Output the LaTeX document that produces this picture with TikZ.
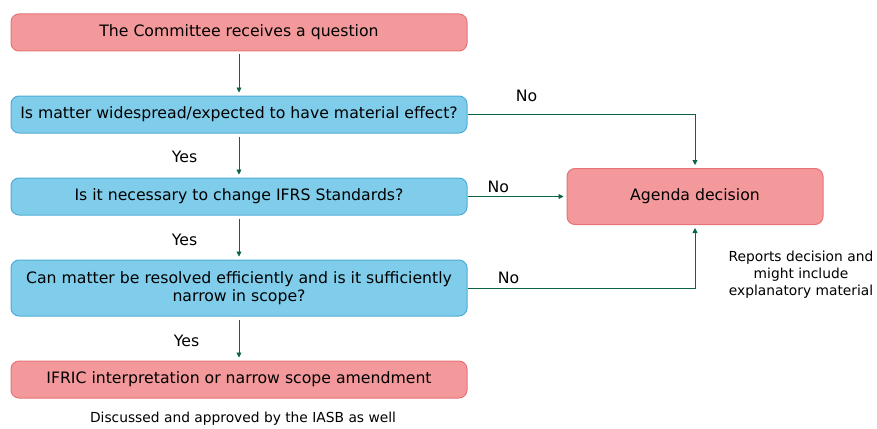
\documentclass[tikz,border=0pt]{standalone}
\usepackage{fontspec}
\setmainfont{DejaVu Sans}
\usepackage{tikz}
\usepackage{xcolor}
\usetikzlibrary{positioning, arrows.meta}

\definecolor{boxpink}{RGB}{244,153,155}
\definecolor{edgepink}{RGB}{230,115,118}
\definecolor{boxblue}{RGB}{127,205,234}
\definecolor{edgeblue}{RGB}{80,172,212}
\definecolor{flowgreen}{RGB}{10,100,65}

\begin{document}
\begin{tikzpicture}[
    x=1pt, y=-1pt,
    node distance=44pt and 99pt, % vertical and horizontal spacing
    every node/.style={font=\fontsize{15.7}{18}\selectfont},
    outcome/.style={draw=edgepink, fill=boxpink, line width=1pt, rounded corners=8pt,
        minimum width=456pt, minimum height=37pt},
    question/.style={draw=edgeblue, fill=boxblue, line width=1pt, rounded corners=8pt,
        minimum width=456pt, minimum height=37pt, align=center},
    flow/.style={draw=flowgreen, line width=0.8pt, -{Triangle[length=5pt,width=5pt]}},
    note/.style={font=\fontsize{13.8}{17}\selectfont, align=center}
]
    \useasboundingbox (0,0) rectangle (877,428);

    % Place the nodes
    \node[outcome] (receive) at (239,32.5) {The Committee receives a question};
    \node[question] (widespread) [below=of receive] {Is matter widespread/expected to have material effect?};
    \node[question] (change) [below=of widespread] {Is it necessary to change IFRS Standards?};
    \node[question, minimum height=56pt] (narrow) [below=of change]
        {Can matter be resolved efficiently and is it sufficiently\\narrow in scope?};
    \node[outcome] (ifric) [below=of narrow] {IFRIC interpretation or narrow scope amendment};
    \node[outcome, minimum width=256pt, minimum height=56pt] (agenda) [right=of change] {Agenda decision};

    % Notes under the outcomes
    \node[note] (reports) at (801,275) {Reports decision and\\might include\\explanatory material};
    \node[note] (approved) [below=10pt of ifric, xshift=4pt] {Discussed and approved by the IASB as well};

    % Draw the edges with labels
    \draw[flow, shorten <=3pt, shorten >=3pt] (receive) -- (widespread);
    \draw[flow, shorten <=3pt, shorten >=3pt] (widespread) -- node[left=38pt, yshift=-1pt] {Yes} (change);
    \draw[flow, shorten <=3pt, shorten >=3pt] (change) -- node[left=38pt, yshift=-2pt] {Yes} (narrow);
    \draw[flow, shorten <=3pt, shorten >=3pt] (narrow) -- node[left=36pt, yshift=-2pt] {Yes} (ifric);
    \draw[flow, shorten >=3pt] (widespread.east) -| node[pos=0.13, above=9pt] {No} (agenda.north);
    \draw[flow, shorten >=3pt] (change) -- node[pos=0.31, above] {No} (agenda);
    \draw[flow, shorten >=3pt] (narrow.east) -| node[pos=0.09, above=1pt] {No} (agenda.south);
\end{tikzpicture}
\end{document}
